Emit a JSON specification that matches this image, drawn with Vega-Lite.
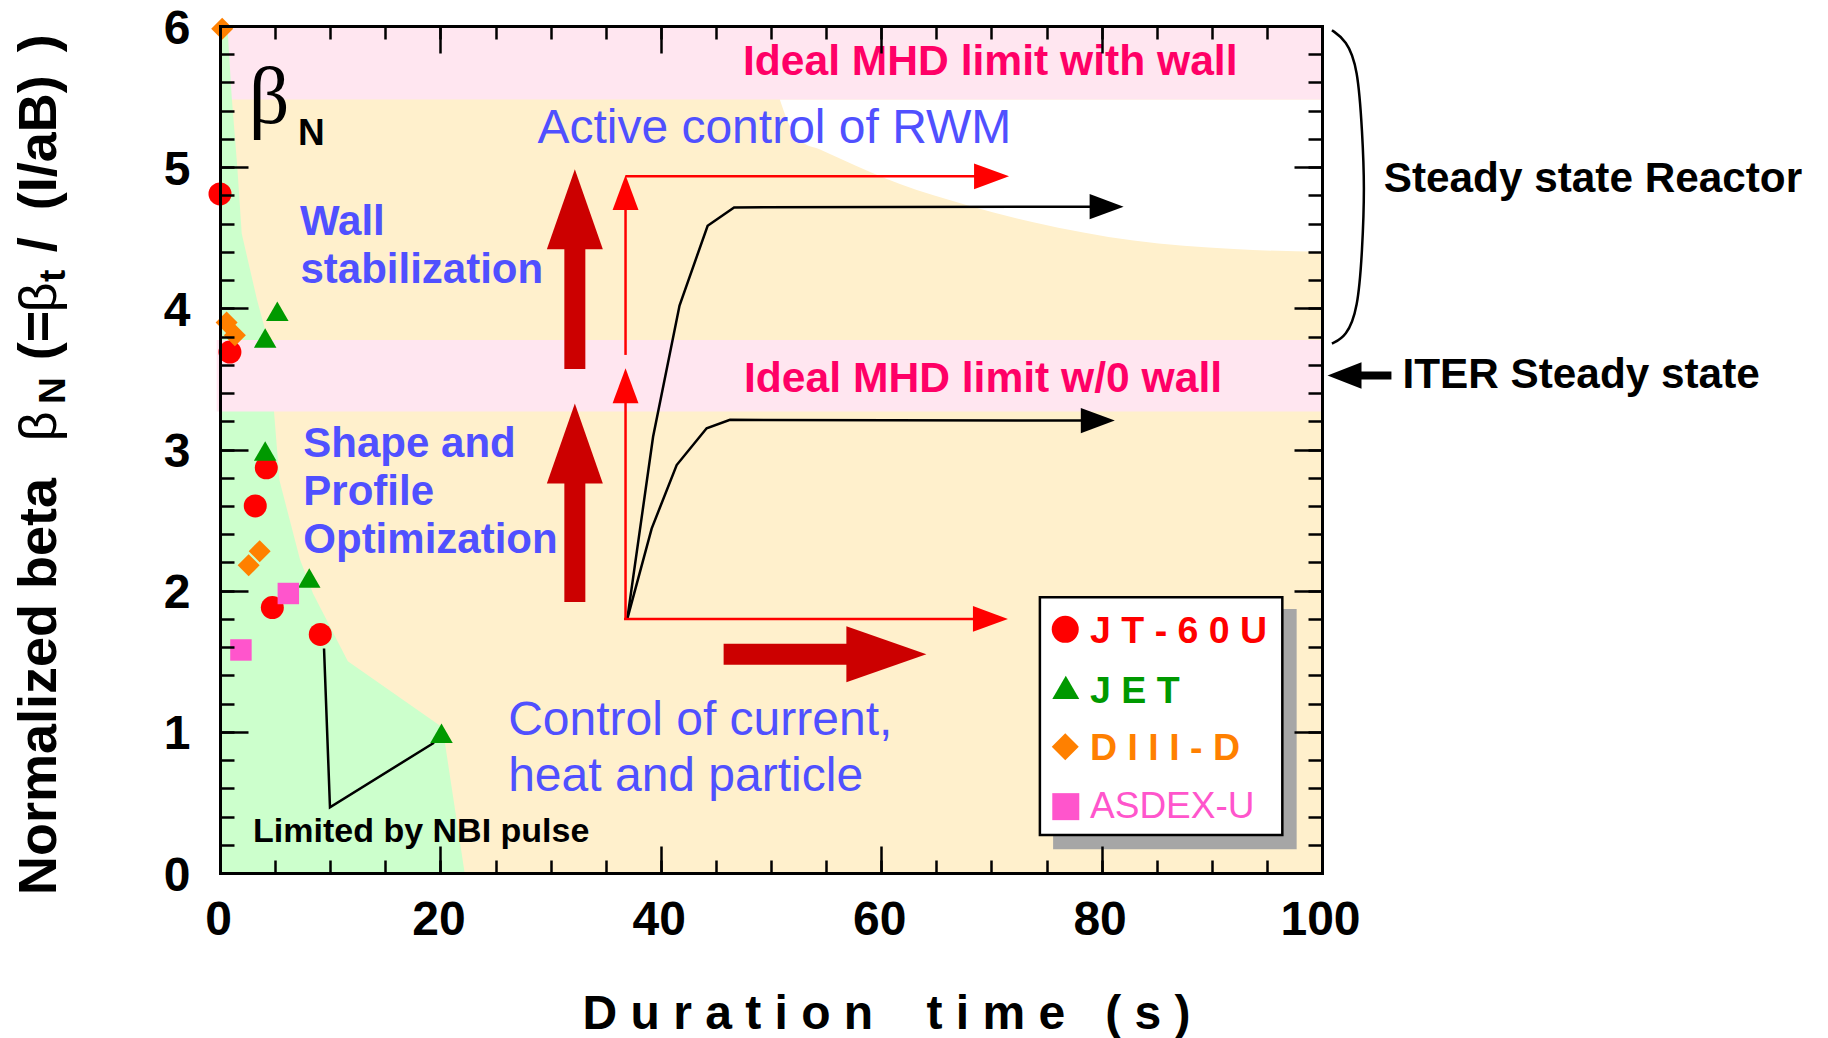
{
  "$schema": "https://vega.github.io/schema/vega-lite/v6.json",
  "width": 1102,
  "height": 847,
  "autosize": "none",
  "padding": {"left": 220, "top": 26, "right": 506, "bottom": 165},
  "background": "#ffffff",
  "config": {
    "view": {"stroke": null},
    "font": "Liberation Sans",
    "axis": {
      "grid": false,
      "tickColor": "#000000",
      "tickWidth": 2.5,
      "domainColor": "#000000",
      "domainWidth": 3,
      "domainCap": "square",
      "labelFont": "Liberation Sans",
      "labelFontSize": 48,
      "labelFontWeight": "bold",
      "labelColor": "#000000",
      "labelFlush": false,
      "labelOverlap": false
    }
  },
  "resolve": {"axis": {"x": "independent", "y": "independent"}, "scale": {"size": "independent"}},
  "datasets": {
    "plotArea": [{"x": 0, "x2": 100, "y": 0, "y2": 6}],
    "wallLimitBand": [{"x": 0, "x2": 100, "y": 5.48, "y2": 6}],
    "noWallLimitBand": [{"x": -0.3, "x2": 100, "y": 3.27, "y2": 3.775}],
    "rwmZone": [
      {"x": 50.8, "y": 5.48, "y2": 5.48},
      {"x": 51.6, "y": 5.48, "y2": 5.31},
      {"x": 52.6, "y": 5.48, "y2": 5.19},
      {"x": 54.6, "y": 5.48, "y2": 5.12},
      {"x": 56.3, "y": 5.48, "y2": 5.06},
      {"x": 61.7, "y": 5.48, "y2": 4.88},
      {"x": 67.8, "y": 5.48, "y2": 4.73},
      {"x": 73.8, "y": 5.48, "y2": 4.61},
      {"x": 82.9, "y": 5.48, "y2": 4.48},
      {"x": 92, "y": 5.48, "y2": 4.42},
      {"x": 100, "y": 5.48, "y2": 4.4}
    ],
    "nbiZone": [
      {"x": 0, "y": 6},
      {"x": 0.67, "y": 6},
      {"x": 1.06, "y": 5.5},
      {"x": 1.57, "y": 5.0},
      {"x": 1.97, "y": 4.53},
      {"x": 3.36, "y": 4.06},
      {"x": 4.36, "y": 3.77},
      {"x": 4.9, "y": 3.27},
      {"x": 5.4, "y": 2.78},
      {"x": 7.26, "y": 2.22},
      {"x": 8.44, "y": 1.98},
      {"x": 11.6, "y": 1.5},
      {"x": 20.2, "y": 1.03},
      {"x": 22.2, "y": 0}
    ],
    "shots": [
      {"device": "JT-60U", "x": 0, "y": 4.81},
      {"device": "JT-60U", "x": 0.9, "y": 3.69},
      {"device": "JT-60U", "x": 4.2, "y": 2.87},
      {"device": "JT-60U", "x": 3.2, "y": 2.6},
      {"device": "JT-60U", "x": 4.75, "y": 1.88},
      {"device": "JT-60U", "x": 9.1, "y": 1.69},
      {"device": "JET", "x": 5.2, "y": 3.98},
      {"device": "JET", "x": 4.1, "y": 3.79},
      {"device": "JET", "x": 4.1, "y": 2.99},
      {"device": "JET", "x": 8.1, "y": 2.09},
      {"device": "JET", "x": 20.1, "y": 0.99},
      {"device": "DIII-D", "x": 0.2, "y": 5.98},
      {"device": "DIII-D", "x": 0.6, "y": 3.9},
      {"device": "DIII-D", "x": 1.35, "y": 3.81},
      {"device": "DIII-D", "x": 2.6, "y": 2.18},
      {"device": "DIII-D", "x": 3.6, "y": 2.28},
      {"device": "ASDEX-U", "x": 6.2, "y": 1.98},
      {"device": "ASDEX-U", "x": 1.9, "y": 1.58}
    ],
    "traces": [
      {"path": "upper", "i": 0, "x": 36.96, "y": 1.8},
      {"path": "upper", "i": 1, "x": 39.3, "y": 3.09},
      {"path": "upper", "i": 2, "x": 41.7, "y": 4.02},
      {"path": "upper", "i": 3, "x": 44.25, "y": 4.585},
      {"path": "upper", "i": 4, "x": 46.65, "y": 4.715},
      {"path": "upper", "i": 5, "x": 79.2, "y": 4.72},
      {"path": "lower", "i": 0, "x": 36.96, "y": 1.8},
      {"path": "lower", "i": 1, "x": 39.17, "y": 2.44},
      {"path": "lower", "i": 2, "x": 41.44, "y": 2.89},
      {"path": "lower", "i": 3, "x": 44.16, "y": 3.15},
      {"path": "lower", "i": 4, "x": 46.28, "y": 3.21},
      {"path": "lower", "i": 5, "x": 78.6, "y": 3.205},
      {"path": "nbi", "i": 0, "x": 9.44, "y": 1.59},
      {"path": "nbi", "i": 1, "x": 9.98, "y": 0.465},
      {"path": "nbi", "i": 2, "x": 19.42, "y": 0.923}
    ],
    "bracket": [
      {"i": 0, "x": 100.9, "y": 5.97},
      {"i": 1, "x": 102.2, "y": 5.9},
      {"i": 2, "x": 103.25, "y": 5.71},
      {"i": 3, "x": 103.66, "y": 5.24},
      {"i": 4, "x": 103.87, "y": 4.86},
      {"i": 5, "x": 103.66, "y": 4.41},
      {"i": 6, "x": 103.25, "y": 3.99},
      {"i": 7, "x": 102.2, "y": 3.8},
      {"i": 8, "x": 100.9, "y": 3.75}
    ],
    "thinShafts": [
      {"x": 36.8, "y": 1.8, "x2": 36.8, "y2": 3.36},
      {"x": 36.8, "y": 3.67, "x2": 36.8, "y2": 4.72},
      {"x": 36.8, "y": 4.935, "x2": 68.7, "y2": 4.935},
      {"x": 36.66, "y": 1.8, "x2": 68.6, "y2": 1.8}
    ],
    "thinRedHeads": [
      {"x": 36.8, "y": 4.945, "heading": 0},
      {"x": 36.8, "y": 3.575, "heading": 0},
      {"x": 71.6, "y": 4.935, "heading": 90},
      {"x": 71.5, "y": 1.8, "heading": 90}
    ],
    "thinBlackHeads": [
      {"x": 82.0, "y": 4.72, "heading": 90},
      {"x": 81.2, "y": 3.205, "heading": 90}
    ],
    "bigShafts": [
      {"x": 32.2, "y": 1.92, "x2": 32.2, "y2": 2.8},
      {"x": 32.2, "y": 3.57, "x2": 32.2, "y2": 4.45},
      {"x": 45.7, "y": 1.55, "x2": 57.5, "y2": 1.55}
    ],
    "bigHeads": [
      {"x": 32.2, "y": 4.986, "heading": 0},
      {"x": 32.2, "y": 3.325, "heading": 0},
      {"x": 64.1, "y": 1.55, "heading": 90}
    ],
    "iterShaft": [{"x": 103.2, "y": 3.525, "x2": 106.3, "y2": 3.525}],
    "iterHead": [{"x": 100.5, "y": 3.525, "heading": 270}],
    "keyShadow": [{"x": 75.6, "x2": 97.7, "y": 0.168, "y2": 1.87}],
    "keyBox": [{"x": 74.4, "x2": 96.4, "y": 0.269, "y2": 1.953}],
    "keySymbols": [
      {"device": "JT-60U", "x": 76.7, "y": 1.726},
      {"device": "JET", "x": 76.75, "y": 1.315},
      {"device": "DIII-D", "x": 76.7, "y": 0.894},
      {"device": "ASDEX-U", "x": 76.75, "y": 0.47}
    ],
    "keyLabels": [
      {"device": "JT-60U", "text": "J T - 6 0 U", "x": 78.95, "y": 1.626},
      {"device": "JET", "text": "J E T", "x": 78.95, "y": 1.202},
      {"device": "DIII-D", "text": "D I I I - D", "x": 78.95, "y": 0.8},
      {"device": "ASDEX-U", "text": "ASDEX-U", "x": 78.95, "y": 0.387}
    ],
    "mhdNotes": [
      {"text": "Ideal MHD limit with wall", "x": 47.45, "y": 5.652},
      {"text": "Ideal MHD limit w/0 wall", "x": 47.55, "y": 3.404}
    ],
    "methodNotes": [
      {"text": "Wall", "x": 7.26, "y": 4.518},
      {"text": "stabilization", "x": 7.3, "y": 4.176},
      {"text": "Shape and", "x": 7.56, "y": 2.948},
      {"text": "Profile", "x": 7.56, "y": 2.606},
      {"text": "Optimization", "x": 7.56, "y": 2.264}
    ],
    "controlNotes": [
      {"text": "Active control of RWM", "x": 28.8, "y": 5.171},
      {"text": "Control of current,", "x": 26.15, "y": 0.977},
      {"text": "heat and particle", "x": 26.15, "y": 0.583}
    ],
    "targetNotes": [
      {"text": "Steady state Reactor", "x": 105.6, "y": 4.825},
      {"text": "ITER Steady state", "x": 107.3, "y": 3.433}
    ],
    "pulseNote": [{"text": "Limited by NBI pulse", "x": 3.0, "y": 0.222}],
    "betaSymbol": [{"text": "β", "x": 2.6, "y": 5.31}],
    "betaSubscript": [{"text": "N", "x": 7.08, "y": 5.156}],
    "yTitleMain": [
      {"text": "Normalized beta", "x": -14.88, "y": -0.156},
      {"text": "(=", "x": -14.88, "y": 3.633},
      {"text": "/", "x": -14.88, "y": 4.398},
      {"text": "(I/aB)", "x": -14.88, "y": 4.695},
      {"text": ")", "x": -14.88, "y": 5.814}
    ],
    "yTitleGreek": [
      {"text": "β", "x": -14.88, "y": 3.059},
      {"text": "β", "x": -14.88, "y": 3.973}
    ],
    "yTitleSub": [
      {"text": "N", "x": -14.07, "y": 3.322},
      {"text": "t", "x": -14.07, "y": 4.186}
    ]
  },
  "encoding": {
    "x": {"field": "x", "type": "quantitative", "scale": {"domain": [0, 100], "nice": false, "zero": false}, "axis": null},
    "y": {"field": "y", "type": "quantitative", "scale": {"domain": [0, 6], "nice": false, "zero": false}, "axis": null}
  },
  "layer": [
    {
      "data": {"name": "plotArea"},
      "mark": {"type": "rect", "fill": "#FFF0CC"},
      "encoding": {
        "x": {"field": "x", "type": "quantitative", "scale": {"domain": [0, 100], "nice": false, "zero": false},
          "axis": {"orient": "bottom", "zindex": 1, "values": [0, 20, 40, 60, 80, 100], "tickSize": -27, "labelPadding": 50, "labelOffset": -2, "domain": true,
            "title": "D u r a t i o n\u00a0\u00a0\u00a0 t i m e\u00a0\u00a0 ( s )", "titleFont": "Liberation Sans", "titleFontSize": 48, "titleFontWeight": "bold", "titleColor": "#000000",
            "titleX": 666, "titleY": 155, "titleAlign": "center", "titleBaseline": "alphabetic", "titleAngle": 0}},
        "x2": {"field": "x2"},
        "y": {"field": "y", "type": "quantitative", "scale": {"domain": [0, 6], "nice": false, "zero": false},
          "axis": {"orient": "left", "zindex": 1, "values": [0, 1, 2, 3, 4, 5, 6], "tickSize": -28, "labelPadding": 58, "labelOffset": 3, "domain": true, "title": null}},
        "y2": {"field": "y2"}
      }
    },
    {
      "data": {"name": "rwmZone"},
      "mark": {"type": "area", "fill": "#ffffff", "interpolate": "monotone", "opacity": 1},
      "encoding": {
        "x": {"field": "x", "type": "quantitative",
          "axis": {"orient": "bottom", "zindex": 1, "values": [0, 5, 10, 15, 20, 25, 30, 35, 40, 45, 50, 55, 60, 65, 70, 75, 80, 85, 90, 95, 100], "tickSize": -13, "labels": false, "domain": false, "title": null}},
        "y": {"field": "y", "type": "quantitative",
          "axis": {"orient": "left", "zindex": 1, "values": [0, 0.2, 0.4, 0.6, 0.8, 1, 1.2, 1.4, 1.6, 1.8, 2, 2.2, 2.4, 2.6, 2.8, 3, 3.2, 3.4, 3.6, 3.8, 4, 4.2, 4.4, 4.6, 4.8, 5, 5.2, 5.4, 5.6, 5.8, 6], "tickSize": -14, "labels": false, "domain": false, "title": null}},
        "y2": {"field": "y2"}
      }
    },
    {
      "data": {"name": "wallLimitBand"},
      "mark": {"type": "rect", "fill": "#FFE6F0"},
      "encoding": {
        "x": {"field": "x", "type": "quantitative",
          "axis": {"orient": "top", "zindex": 1, "values": [0, 20, 40, 60, 80, 100], "tickSize": -27, "labels": false, "domain": true, "title": null}},
        "x2": {"field": "x2"},
        "y": {"field": "y", "type": "quantitative",
          "axis": {"orient": "right", "zindex": 1, "values": [0, 1, 2, 3, 4, 5, 6], "tickSize": -28, "labels": false, "domain": true, "title": null}},
        "y2": {"field": "y2"}
      }
    },
    {
      "data": {"name": "nbiZone"},
      "mark": {"type": "area", "fill": "#CCFFCC", "opacity": 1}
    },
    {
      "data": {"name": "noWallLimitBand"},
      "mark": {"type": "rect", "fill": "#FFE6F0"},
      "encoding": {
        "x": {"field": "x", "type": "quantitative",
          "axis": {"orient": "top", "zindex": 1, "values": [0, 5, 10, 15, 20, 25, 30, 35, 40, 45, 50, 55, 60, 65, 70, 75, 80, 85, 90, 95, 100], "tickSize": -13, "labels": false, "domain": false, "title": null}},
        "x2": {"field": "x2"},
        "y": {"field": "y", "type": "quantitative",
          "axis": {"orient": "right", "zindex": 1, "values": [0, 0.2, 0.4, 0.6, 0.8, 1, 1.2, 1.4, 1.6, 1.8, 2, 2.2, 2.4, 2.6, 2.8, 3, 3.2, 3.4, 3.6, 3.8, 4, 4.2, 4.4, 4.6, 4.8, 5, 5.2, 5.4, 5.6, 5.8, 6], "tickSize": -14, "labels": false, "domain": false, "title": null}},
        "y2": {"field": "y2"}
      }
    },
    {
      "data": {"name": "traces"},
      "mark": {"type": "line", "color": "#000000", "strokeWidth": 2.5, "strokeJoin": "miter"},
      "encoding": {"detail": {"field": "path"}, "order": {"field": "i", "type": "quantitative"}}
    },
    {
      "data": {"name": "bracket"},
      "mark": {"type": "line", "color": "#000000", "strokeWidth": 2.5, "interpolate": "basis"},
      "encoding": {"order": {"field": "i", "type": "quantitative"}}
    },
    {
      "data": {"name": "thinShafts"},
      "mark": {"type": "rule", "color": "#FF0000", "strokeWidth": 2.5},
      "encoding": {"x2": {"field": "x2"}, "y2": {"field": "y2"}}
    },
    {
      "data": {"name": "thinRedHeads"},
      "mark": {"type": "point", "shape": "M0,0L-0.37,1L0.37,1Z", "size": 4900, "filled": true, "color": "#FF0000", "opacity": 1, "strokeWidth": 0},
      "encoding": {"angle": {"field": "heading", "type": "quantitative", "scale": null}}
    },
    {
      "data": {"name": "thinBlackHeads"},
      "mark": {"type": "point", "shape": "M0,0L-0.37,1L0.37,1Z", "size": 4624, "filled": true, "color": "#000000", "opacity": 1, "strokeWidth": 0},
      "encoding": {"angle": {"field": "heading", "type": "quantitative", "scale": null}}
    },
    {
      "data": {"name": "bigShafts"},
      "mark": {"type": "rule", "color": "#CC0000", "strokeWidth": 21, "strokeCap": "butt"},
      "encoding": {"x2": {"field": "x2"}, "y2": {"field": "y2"}}
    },
    {
      "data": {"name": "bigHeads"},
      "mark": {"type": "point", "shape": "M0,0L-0.35,1L0.35,1Z", "size": 25600, "filled": true, "color": "#CC0000", "opacity": 1, "strokeWidth": 0},
      "encoding": {"angle": {"field": "heading", "type": "quantitative", "scale": null}}
    },
    {
      "data": {"name": "iterShaft"},
      "mark": {"type": "rule", "color": "#000000", "strokeWidth": 8, "strokeCap": "butt"},
      "encoding": {"x2": {"field": "x2"}, "y2": {"field": "y2"}}
    },
    {
      "data": {"name": "iterHead"},
      "mark": {"type": "point", "shape": "M0,0L-0.39,1L0.39,1Z", "size": 4624, "filled": true, "color": "#000000", "opacity": 1, "strokeWidth": 0},
      "encoding": {"angle": {"field": "heading", "type": "quantitative", "scale": null}}
    },
    {
      "data": {"name": "shots"},
      "mark": {"type": "point", "filled": true, "opacity": 1, "strokeWidth": 0},
      "encoding": {
        "color": {"field": "device", "type": "nominal", "legend": null,
          "scale": {"domain": ["JT-60U", "JET", "DIII-D", "ASDEX-U"], "range": ["#FF0000", "#009900", "#FF8000", "#FF55CC"]}},
        "shape": {"field": "device", "type": "nominal", "legend": null,
          "scale": {"domain": ["JT-60U", "JET", "DIII-D", "ASDEX-U"], "range": ["circle", "triangle-up", "diamond", "square"]}},
        "size": {"field": "device", "type": "nominal", "legend": null,
          "scale": {"domain": ["JT-60U", "JET", "DIII-D", "ASDEX-U"], "range": [529, 460, 820, 335]}}
      }
    },
    {
      "data": {"name": "keyShadow"},
      "mark": {"type": "rect", "fill": "#A6A6A6"},
      "encoding": {"x2": {"field": "x2"}, "y2": {"field": "y2"}}
    },
    {
      "data": {"name": "keyBox"},
      "mark": {"type": "rect", "fill": "#ffffff", "stroke": "#000000", "strokeWidth": 2.5},
      "encoding": {"x2": {"field": "x2"}, "y2": {"field": "y2"}}
    },
    {
      "data": {"name": "keySymbols"},
      "mark": {"type": "point", "filled": true, "opacity": 1, "strokeWidth": 0},
      "encoding": {
        "color": {"field": "device", "type": "nominal", "legend": null},
        "shape": {"field": "device", "type": "nominal", "legend": null},
        "size": {"field": "device", "type": "nominal", "legend": null,
          "scale": {"domain": ["JT-60U", "JET", "DIII-D", "ASDEX-U"], "range": [729, 729, 1200, 484]}}
      }
    },
    {
      "data": {"name": "keyLabels"},
      "transform": [{"filter": "datum.device !== 'ASDEX-U'"}],
      "mark": {"type": "text", "align": "left", "baseline": "alphabetic", "font": "Liberation Sans", "fontSize": 37.5, "fontWeight": "bold"},
      "encoding": {"text": {"field": "text"}, "color": {"field": "device", "type": "nominal", "legend": null}}
    },
    {
      "data": {"name": "keyLabels"},
      "transform": [{"filter": "datum.device === 'ASDEX-U'"}],
      "mark": {"type": "text", "align": "left", "baseline": "alphabetic", "font": "Liberation Sans", "fontSize": 37, "fontWeight": "normal"},
      "encoding": {"text": {"field": "text"}, "color": {"field": "device", "type": "nominal", "legend": null}}
    },
    {
      "data": {"name": "mhdNotes"},
      "mark": {"type": "text", "align": "left", "baseline": "alphabetic", "font": "Liberation Sans", "fontSize": 42.6, "fontWeight": "bold", "color": "#FF0066"},
      "encoding": {"text": {"field": "text"}}
    },
    {
      "data": {"name": "methodNotes"},
      "mark": {"type": "text", "align": "left", "baseline": "alphabetic", "font": "Liberation Sans", "fontSize": 42, "fontWeight": "bold", "color": "#5050FF"},
      "encoding": {"text": {"field": "text"}}
    },
    {
      "data": {"name": "controlNotes"},
      "mark": {"type": "text", "align": "left", "baseline": "alphabetic", "font": "Liberation Sans", "fontSize": 48, "fontWeight": "normal", "color": "#5050FF"},
      "encoding": {"text": {"field": "text"}}
    },
    {
      "data": {"name": "targetNotes"},
      "mark": {"type": "text", "align": "left", "baseline": "alphabetic", "font": "Liberation Sans", "fontSize": 42.3, "fontWeight": "bold", "color": "#000000"},
      "encoding": {"text": {"field": "text"}}
    },
    {
      "data": {"name": "pulseNote"},
      "mark": {"type": "text", "align": "left", "baseline": "alphabetic", "font": "Liberation Sans", "fontSize": 34, "fontWeight": "bold", "color": "#000000"},
      "encoding": {"text": {"field": "text"}}
    },
    {
      "data": {"name": "betaSymbol"},
      "mark": {"type": "text", "align": "left", "baseline": "alphabetic", "font": "Liberation Serif", "fontSize": 80, "fontWeight": "normal", "color": "#000000"},
      "encoding": {"text": {"field": "text"}}
    },
    {
      "data": {"name": "betaSubscript"},
      "mark": {"type": "text", "align": "left", "baseline": "alphabetic", "font": "Liberation Sans", "fontSize": 37, "fontWeight": "bold", "color": "#000000"},
      "encoding": {"text": {"field": "text"}}
    },
    {
      "data": {"name": "yTitleMain"},
      "mark": {"type": "text", "align": "left", "baseline": "alphabetic", "angle": 270, "font": "Liberation Sans", "fontSize": 54, "fontWeight": "bold", "color": "#000000"},
      "encoding": {"text": {"field": "text"}}
    },
    {
      "data": {"name": "yTitleGreek"},
      "mark": {"type": "text", "align": "left", "baseline": "alphabetic", "angle": 270, "font": "Liberation Sans", "fontSize": 52, "fontWeight": "normal", "color": "#000000"},
      "encoding": {"text": {"field": "text"}}
    },
    {
      "data": {"name": "yTitleSub"},
      "mark": {"type": "text", "align": "left", "baseline": "alphabetic", "angle": 270, "font": "Liberation Sans", "fontSize": 37, "fontWeight": "bold", "color": "#000000"},
      "encoding": {"text": {"field": "text"}}
    }
  ]
}
